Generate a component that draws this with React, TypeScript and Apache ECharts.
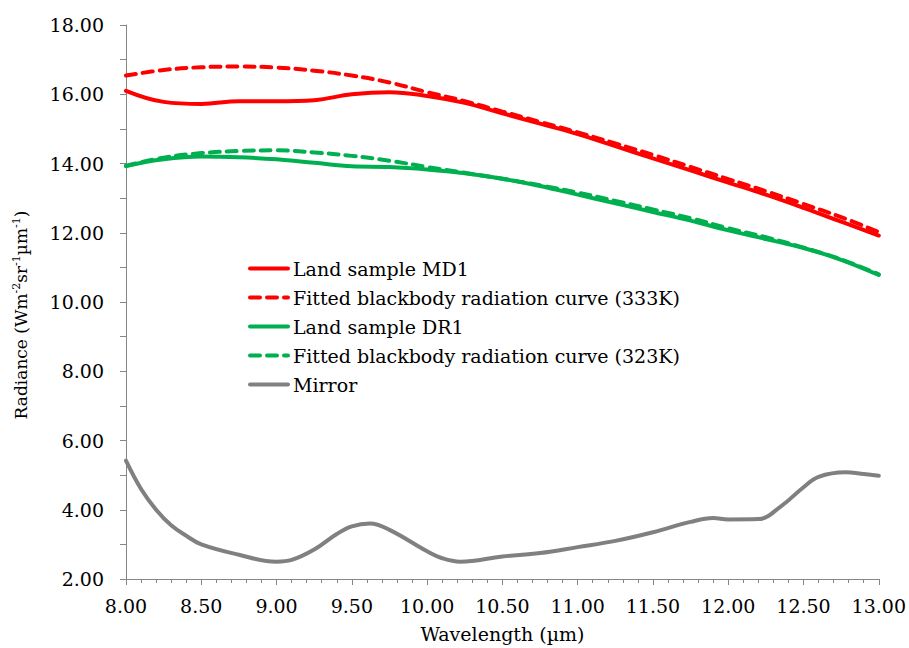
import React, { useEffect, useRef } from "react";
import * as echarts from "echarts";

const wavelengths = [8.0, 8.25, 8.5, 8.75, 9.0, 9.25, 9.5, 9.75, 10.0, 10.25, 10.5, 10.75, 11.0, 11.25, 11.5, 11.75, 12.0, 12.25, 12.5, 12.75, 13.0];
const md1 = [16.1, 15.78, 15.72, 15.8, 15.8, 15.83, 16.0, 16.06, 15.95, 15.75, 15.45, 15.15, 14.85, 14.5, 14.15, 13.8, 13.45, 13.1, 12.72, 12.32, 11.92];
const fit333 = [16.54, 16.7, 16.78, 16.8, 16.77, 16.68, 16.54, 16.34, 16.06, 15.8, 15.5, 15.2, 14.9, 14.58, 14.25, 13.9, 13.55, 13.2, 12.83, 12.45, 12.02];
const dr1 = [13.93, 14.12, 14.2, 14.18, 14.12, 14.02, 13.92, 13.9, 13.83, 13.72, 13.56, 13.35, 13.1, 12.85, 12.6, 12.35, 12.07, 11.82, 11.56, 11.22, 10.78];
const fit323 = [13.93, 14.17, 14.3, 14.36, 14.38, 14.32, 14.22, 14.08, 13.9, 13.73, 13.56, 13.37, 13.16, 12.92, 12.67, 12.42, 12.13, 11.87, 11.57, 11.23, 10.8];
const mirrorX = [8.0, 8.1, 8.2, 8.3, 8.4, 8.5, 8.75, 9.0, 9.1, 9.25, 9.4, 9.5, 9.62, 9.75, 10.0, 10.1, 10.22, 10.5, 10.75, 11.0, 11.25, 11.5, 11.75, 11.9, 12.0, 12.2, 12.35, 12.5, 12.6, 12.78, 12.9, 13.0];
const mirrorY = [5.42, 4.6, 4.0, 3.55, 3.25, 3.0, 2.7, 2.5, 2.55, 2.85, 3.3, 3.52, 3.6, 3.42, 2.8, 2.6, 2.5, 2.65, 2.75, 2.92, 3.1, 3.35, 3.65, 3.76, 3.72, 3.73, 4.1, 4.65, 4.95, 5.08, 5.03, 4.98];
const seriesNames = [
  "Land sample MD1",
  "Fitted blackbody radiation curve (333K)",
  "Land sample DR1",
  "Fitted blackbody radiation curve (323K)",
  "Mirror",
];

const FONT = "DejaVu Serif";

export default function App() {
  const ref = useRef<HTMLDivElement>(null);
  useEffect(() => {
    if (!ref.current) return;
    const chart = echarts.init(ref.current, null, { renderer: "svg" });
    const pair = (xs: number[], ys: number[]) => xs.map((x, i) => [x, ys[i]]);
    const mk = (name: string, data: number[][], color: string, dashed: boolean) => ({
      name,
      type: "line",
      data,
      smooth: 0.4,
      showSymbol: false,
      symbol: "none",
      lineStyle: { color, width: 4, type: dashed ? [10, 7] : "solid", cap: "round" },
      itemStyle: { color },
    });
    const axisGray = "#868686";
    chart.setOption({
      animation: false,
      backgroundColor: "#ffffff",
      textStyle: { fontFamily: FONT },
      grid: { left: 126, right: 29, top: 25, bottom: 66, containLabel: false },
      legend: {
        orient: "vertical",
        left: 243,
        top: 254,
        itemWidth: 38,
        itemHeight: 14,
        itemGap: 10,
        itemStyle: { opacity: 0 },
        lineStyle: { width: 4 },
        textStyle: { fontFamily: FONT, fontSize: 19, color: "#000" },
        data: seriesNames,
      },
      xAxis: {
        type: "value",
        min: 8,
        max: 13,
        interval: 0.5,
        name: "Wavelength (µm)",
        nameLocation: "middle",
        nameGap: 45,
        nameTextStyle: { fontFamily: FONT, fontSize: 19, color: "#000" },
        axisLine: { lineStyle: { color: axisGray, width: 1 } },
        axisTick: { show: true, inside: false, length: 6, lineStyle: { color: axisGray } },
        minorTick: { show: true, splitNumber: 5, length: 4, lineStyle: { color: axisGray } },
        axisLabel: {
          fontFamily: FONT,
          fontSize: 19,
          color: "#000",
          margin: 17,
          formatter: (v: number) => v.toFixed(2),
        },
        splitLine: { show: false },
      },
      yAxis: {
        type: "value",
        min: 2,
        max: 18,
        interval: 2,
        name: "Radiance (Wm{sup|-2}sr{sup|-1}µm{sup|-1})",
        nameLocation: "middle",
        nameGap: 96,
        nameRotate: 90,
        nameTextStyle: {
          fontFamily: FONT,
          fontSize: 17,
          color: "#000",
          padding: [0, 26, 0, 0],
          rich: {
            sup: { fontFamily: FONT, fontSize: 11, color: "#000", padding: [0, 0, 8, 0] },
          },
        },
        axisLine: { show: true, lineStyle: { color: axisGray, width: 1 } },
        axisTick: { show: true, inside: false, length: 6, lineStyle: { color: axisGray } },
        minorTick: { show: true, splitNumber: 2, length: 6, lineStyle: { color: axisGray } },
        axisLabel: {
          fontFamily: FONT,
          fontSize: 19,
          color: "#000",
          margin: 22,
          formatter: (v: number) => v.toFixed(2),
        },
        splitLine: { show: false },
      },
      series: [
        mk(seriesNames[0], pair(wavelengths, md1), "#FF0000", false),
        mk(seriesNames[1], pair(wavelengths, fit333), "#FF0000", true),
        mk(seriesNames[2], pair(wavelengths, dr1), "#00B050", false),
        mk(seriesNames[3], pair(wavelengths, fit323), "#00B050", true),
        mk(seriesNames[4], pair(mirrorX, mirrorY), "#808080", false),
      ],
    });
    return () => chart.dispose();
  }, []);
  return <div ref={ref} style={{ width: 909, height: 648, position: "absolute", left: 0, top: 0 }} />;
}
